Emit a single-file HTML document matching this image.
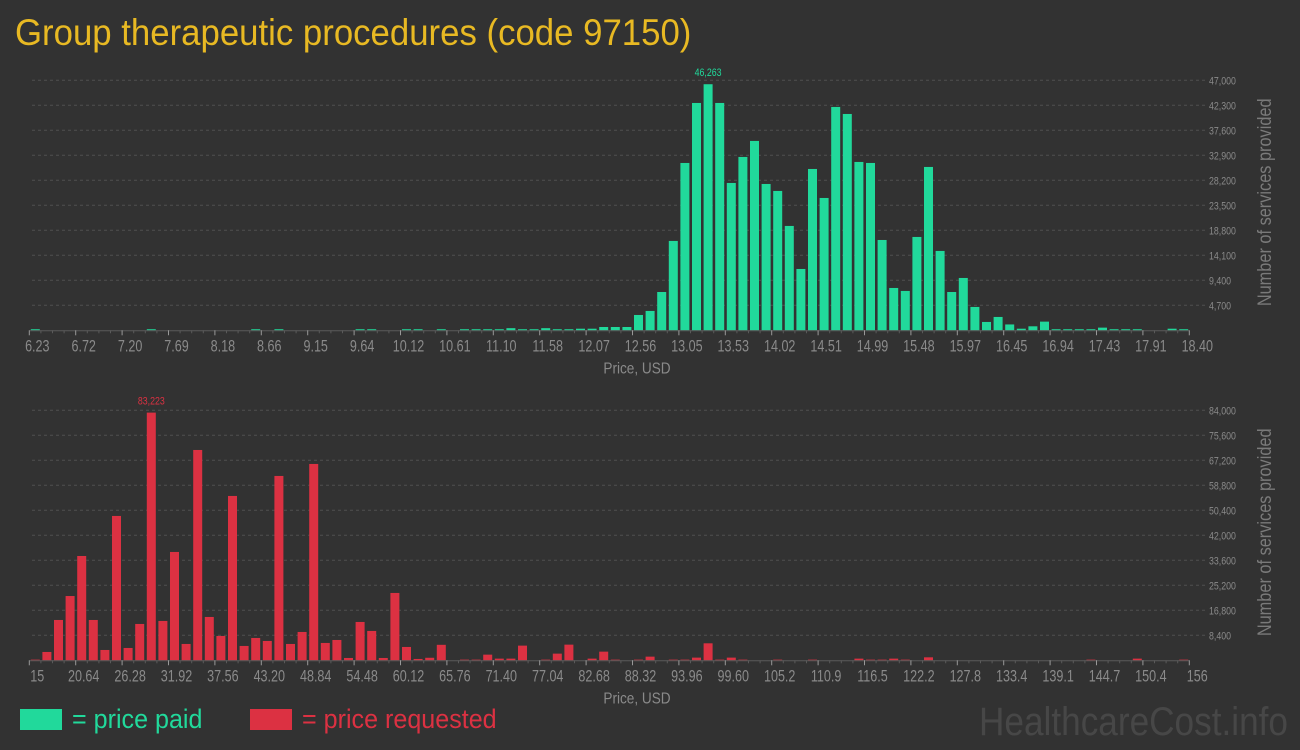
<!DOCTYPE html>
<html><head><meta charset="utf-8"><style>
html,body{margin:0;padding:0;background:#323232;}
svg{display:block;}
text{font-family:"Liberation Sans Narrow","Liberation Sans",sans-serif;}
</style></head><body>
<svg id="root" width="1300" height="750" viewBox="0 0 1300 750" xmlns="http://www.w3.org/2000/svg">
<rect width="1300" height="750" fill="#323232"/>
<text x="15" y="45" fill="#e8b923" font-size="37" transform="translate(15 0) scale(0.94 1) translate(-15 0)">Group therapeutic procedures (code 97150)</text>
<g id="top"></g>
<g id="bot"></g>
<rect x="20" y="709" width="42" height="21" fill="#21d99b"/>
<text x="72" y="728" fill="#21d99b" font-size="27" transform="translate(72 0) scale(0.93 1) translate(-72 0)">= price paid</text>
<rect x="250" y="709" width="42" height="21" fill="#dc3142"/>
<text x="302" y="728" fill="#dc3142" font-size="27" transform="translate(302 0) scale(0.93 1) translate(-302 0)">= price requested</text>
<text x="1288" y="735" text-anchor="end" fill="#474747" font-size="40" transform="translate(1288 0) scale(0.88 1) translate(-1288 0)">HealthcareCost.info</text>
</svg>
<script>
const topTicks=["6.23","6.72","7.20","7.69","8.18","8.66","9.15","9.64","10.12","10.61","11.10","11.58","12.07","12.56","13.05","13.53","14.02","14.51","14.99","15.48","15.97","16.45","16.94","17.43","17.91","18.40"];
const topYTicks=[4700,9400,14100,18800,23500,28200,32900,37600,42300,47000];
const topValues=[200,0,0,0,0,0,0,0,0,0,200,0,0,0,0,0,0,0,0,200,0,200,0,0,0,0,0,0,200,200,
0,0,200,200,0,200,0,200,200,200,200,400,200,200,400,200,200,300,300,620,
620,620,2880,3640,7200,16800,31460,42740,46263,42740,27700,32590,35600,27510,26200,19620,11530,30330,24880,41990,
40670,31650,31460,16980,7960,7400,17550,30710,14920,7200,9840,4390,1570,2510,1100,300,750,1630,200,200,
200,200,500,200,200,200,0,0,300,200];
const botTicks=["15","20.64","26.28","31.92","37.56","43.20","48.84","54.48","60.12","65.76","71.40","77.04","82.68","88.32","93.96","99.60","105.2","110.9","116.5","122.2","127.8","133.4","139.1","144.7","150.4","156"];
const botYTicks=[8400,16800,25200,33600,42000,50400,58800,67200,75600,84000];
const botValues=[220,2800,13550,21600,35050,13550,3470,48500,4140,12210,83223,13220,36400,5490,70670,14560,8180,55220,4820,7500,
6500,61940,5490,9520,65970,5830,6830,780,12880,9860,780,22630,4480,450,850,5200,0,220,220,1900,
560,560,4930,0,220,2240,5260,0,560,2910,220,0,220,1230,0,220,220,900,5710,220,
900,220,0,0,220,0,0,220,0,0,0,560,220,220,560,220,0,1000,0,0,
0,0,0,0,0,0,0,0,0,0,0,220,0,0,0,560,0,0,0,220];
const NS="http://www.w3.org/2000/svg";
function mk(g,tag,attrs){const e=document.createElementNS(NS,tag);for(const k in attrs)e.setAttribute(k,attrs[k]);g.appendChild(e);return e;}
function draw(gid,values,xt,yt,ymax,base,color){
  const g=document.getElementById(gid);
  const x0=29.3,x1=1189.3,n=values.length,step=(x1-x0)/n;
  const y=v=>base-v/ymax*250;
  const xb=i=>x0+i*step;
  yt.forEach(v=>{
    const l=mk(g,'line',{x1:32,x2:1205,y1:y(v),y2:y(v),stroke:'#4f4f4f','stroke-dasharray':'3,3'});
    
    
    const t=mk(g,'text',{x:1209,y:y(v)+4,fill:'#8a8a8a','font-size':'11',transform:`translate(1209 0) scale(0.8 1) translate(-1209 0)`});
    t.textContent=v.toLocaleString('en-US');
    
    
  });
  let peak=0;values.forEach((v,i)=>{if(v>values[peak])peak=i;});
  values.forEach((v,i)=>{
    if(v<=0)return;
    const r=mk(g,'rect',{x:xb(i)+1.5,y:y(v),width:9,height:base-y(v),fill:color});
    
    
  });
  const ax=mk(g,'line',{x1:x0,x2:x1,y1:base+0.5,y2:base+0.5,stroke:'#5a5a5a','stroke-width':1});
  
  
  for(let i=0;i<=n;i++){
    const major=i%4===0;
    const tk=mk(g,'line',{x1:xb(i),x2:xb(i),y1:base,y2:base+(major?5:3),stroke:major?'#999':'#5a5a5a'});
    
    
  }
  xt.forEach((s,j)=>{
    const cx=xb(j*4)+8;
    const t=mk(g,'text',{x:cx,y:base+21,'text-anchor':'middle',fill:'#8a8a8a','font-size':'17',transform:`translate(${cx} 0) scale(0.74 1) translate(${-cx} 0)`});
    t.textContent=s;
    
    
  });
  const pl=mk(g,'text',{x:xb(peak)+6,y:y(values[peak])-8,'text-anchor':'middle',fill:color,'font-size':'11',transform:`translate(${xb(peak)+6} 0) scale(0.8 1) translate(${-(xb(peak)+6)} 0)`});
  pl.textContent=values[peak].toLocaleString('en-US');
  
  
  const xt2=mk(g,'text',{x:637,y:base+43,'text-anchor':'middle',fill:'#8a8a8a','font-size':'16',transform:`translate(637 0) scale(0.85 1) translate(-637 0)`});
  xt2.textContent='Price, USD';
  
  
  const cy=base-128;
  const yt2=mk(g,'text',{x:0,y:0,'text-anchor':'middle',fill:'#7a7a7a','font-size':'19',transform:`translate(1271 ${cy}) rotate(-90) scale(0.86 1)`});
  yt2.textContent='Number of services provided';
  
  
}
draw('top',topValues,topTicks,topYTicks,47000,330.3,'#21d99b');
draw('bot',botValues,botTicks,botYTicks,84000,660.3,'#dc3142');
</script>
</body></html>
